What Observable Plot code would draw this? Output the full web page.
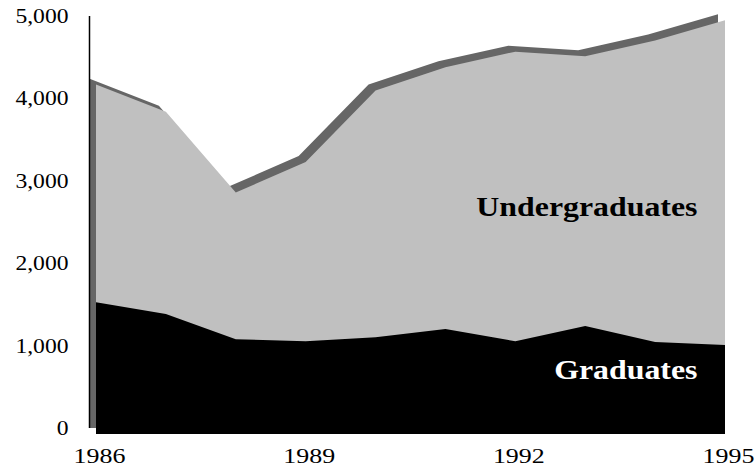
<!DOCTYPE html>
<html><head><meta charset="utf-8">
<script src="https://cdn.jsdelivr.net/npm/d3@7"></script>
<script src="https://cdn.jsdelivr.net/npm/@observablehq/plot@0.6"></script>
<style>body{margin:0;background:#fff}</style>
</head><body><div id="chart"></div>
<script>
const years = [1986, 1987, 1988, 1989, 1990, 1991, 1992, 1993, 1994, 1995];
const graduates = [1600, 1455, 1150, 1125, 1175, 1275, 1125, 1310, 1115, 1080];
const undergraduates = [2640, 2455, 1780, 2175, 2995, 3175, 3515, 3275, 3660, 3940];
const yTicks = [0, 1000, 2000, 3000, 4000, 5000];
const xTicks = [1986, 1989, 1992, 1995];
const seriesLabels = ["Undergraduates", "Graduates"];

const rows = years.map((year, i) => ({year, graduates: graduates[i], total: graduates[i] + undergraduates[i]}));
const depth = {dx: 7, dy: 6};
const serif = "'Liberation Serif', 'Times New Roman', serif";

const chart = Plot.plot({
  width: 754, height: 470,
  marginLeft: 89, marginRight: 36, marginTop: 16, marginBottom: 42,
  style: {fontFamily: serif, background: "#fff", overflow: "visible", color: "#000"},
  x: {domain: [years[0], years[years.length - 1]]},
  y: {domain: [0, 5000]},
  marks: [
    Plot.areaY(rows, {x: "year", y: "total", fill: "#666666"}),
    Plot.areaY(rows, {x: "year", y: "total", fill: "#c0c0c0", ...depth}),
    Plot.areaY(rows, {x: "year", y: "graduates", fill: "#000000", ...depth}),
    Plot.ruleX([years[0]], {stroke: "#000", strokeWidth: 1.5}),
    Plot.axisY({ticks: yTicks, tickSize: 0, tickPadding: 21, tickFormat: d3.format(","), fontSize: 20, label: null}),
    Plot.axisX({ticks: xTicks, tickSize: 0, tickPadding: 19, tickFormat: d => String(d), fontSize: 22, dx: 10, label: null}),
    Plot.text([seriesLabels[0]], {text: d => d, frameAnchor: "top-right", textAnchor: "end", dx: -21, dy: 180, fontSize: 27, fontWeight: "bold", fill: "#000"}),
    Plot.text([seriesLabels[1]], {text: d => d, frameAnchor: "bottom-right", textAnchor: "end", dx: -21, dy: -50, fontSize: 27, fontWeight: "bold", fill: "#fff"})
  ]
});

chart.querySelectorAll("text").forEach(t => {
  const tr = t.getAttribute("transform");
  if (tr) t.setAttribute("transform", tr + " scale(1.18,1)");
});

document.getElementById("chart").appendChild(chart);
</script>
</body></html>
